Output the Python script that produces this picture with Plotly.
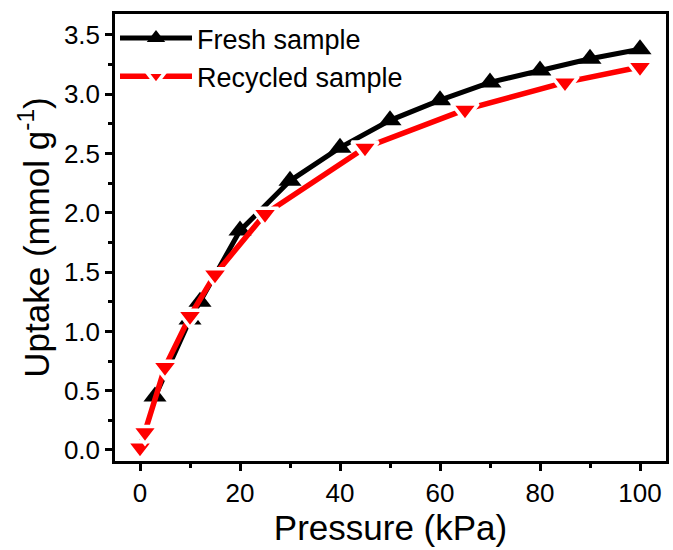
import plotly.graph_objects as go

fresh_x = [3, 10, 12, 20, 30, 40, 50, 60, 70, 80, 90, 100]
fresh_y = [0.45, 1.10, 1.25, 1.85, 2.27, 2.55, 2.78, 2.95, 3.10, 3.20, 3.30, 3.38]

recycled_x = [0, 1, 5, 10, 15, 25, 45, 65, 85, 100]
recycled_y = [0.02, 0.15, 0.70, 1.13, 1.48, 1.99, 2.55, 2.87, 3.10, 3.23]

x_ticks = [0, 20, 40, 60, 80, 100]
y_ticks = [0.0, 0.5, 1.0, 1.5, 2.0, 2.5, 3.0, 3.5]

FONT = "Liberation Sans, Arial, sans-serif"

fig = go.Figure()
fig.add_trace(go.Scatter(
    x=fresh_x, y=fresh_y, mode="lines+markers", name="Fresh sample",
    line=dict(color="black", width=5),
    marker=dict(symbol="triangle-up", size=20, color="black"),
))
fig.add_trace(go.Scatter(
    x=recycled_x, y=recycled_y, mode="lines+markers", name="Recycled sample",
    line=dict(color="#ff0000", width=5.5),
    marker=dict(symbol="triangle-down", size=23, color="#ff0000",
                line=dict(color="white", width=3.5)),
))

axis_common = dict(
    showgrid=False, zeroline=False, showline=True, linecolor="black",
    linewidth=2.5, mirror=True, ticks="outside", ticklen=7, tickwidth=2.5,
    tickcolor="black", tickfont=dict(family=FONT, size=26, color="black"),
)
fig.update_xaxes(
    range=[-5, 105.2], tickvals=x_ticks, ticktext=[str(v) for v in x_ticks],
    minor=dict(ticks="outside", ticklen=4, tickwidth=2.5, tickcolor="black", dtick=10),
    title=dict(text="Pressure (kPa)", font=dict(family=FONT, size=35, color="black"), standoff=0),
    **axis_common,
)
fig.update_yaxes(
    range=[-0.093, 3.677], tickvals=y_ticks, ticktext=[f"{v:.1f}" for v in y_ticks],
    minor=dict(ticks="outside", ticklen=4, tickwidth=2.5, tickcolor="black", dtick=0.25),
    title=dict(text="Uptake (mmol g<sup>-1</sup>)", font=dict(family=FONT, size=35, color="black"), standoff=4),
    **axis_common,
)
fig.update_layout(
    width=673, height=550,
    margin=dict(l=115, r=4, t=14, b=89),
    plot_bgcolor="white", paper_bgcolor="white",
    showlegend=True,
    legend=dict(
        x=0.0, y=1.0, xanchor="left", yanchor="top",
        bgcolor="rgba(0,0,0,0)", borderwidth=0,
        font=dict(family=FONT, size=27, color="black"),
        itemwidth=72, tracegroupgap=0,
    ),
)
fig.write_html("out.html")
